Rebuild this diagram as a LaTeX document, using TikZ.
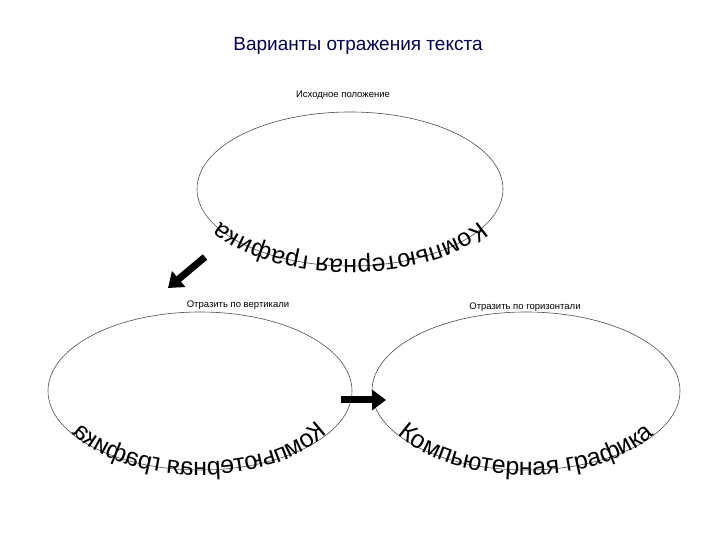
\documentclass[tikz,border=0pt]{standalone}
\usepackage{fontspec}
\setmainfont{Liberation Sans}
\usetikzlibrary{decorations.text,arrows.meta}
\begin{document}
\begin{tikzpicture}[x=1pt,y=1pt,
  oval/.style={draw=black!70,line width=0.6pt},
  lbl/.style={font=\fontsize{9.5}{11}\selectfont},
  blk/.style={line width=7pt,-{Triangle[length=14pt,width=20pt]}},
  curv/.style={decorate,decoration={text along path,text align=center,
     text={Компьютерная графика}}}]
\useasboundingbox (0,0) rectangle (720,540);
\node[font=\fontsize{19}{22}\selectfont,text=blue!35!black] (title) at (358,494) {Варианты отражения текста};
\node[lbl] (l0) at (343,445) {Исходное положение};
\node[lbl] (l1) at (238,235) {Отразить по вертикали};
\node[lbl] (l2) at (525,233) {Отразить по горизонтали};
\draw[oval] (350,351) ellipse[x radius=153,y radius=77];
\draw[oval] (200,149) ellipse[x radius=152,y radius=79];
\draw[oval] (526,149) ellipse[x radius=154,y radius=79];
\begin{scope}
\fontsize{25}{25}\selectfont
\path[curv] (526,149) ++(197:150 and 84) arc[start angle=197,end angle=343,x radius=150,y radius=84];
\end{scope}
\begin{scope}[transform canvas={xshift=400pt,xscale=-1}]
\fontsize{25}{25}\selectfont
\path[curv] (200,149) ++(197:148 and 84) arc[start angle=197,end angle=343,x radius=148,y radius=84];
\end{scope}
\begin{scope}[transform canvas={rotate around={180:(350,351)}}]
\fontsize{25}{25}\selectfont
\path[curv] (350,351) ++(163:146 and 70) arc[start angle=163,end angle=17,x radius=146,y radius=70];
\end{scope}
\coordinate (a1s) at (205,283);
\coordinate (a1e) at (168,252);
\coordinate (a2s) at (341,140);
\coordinate (a2e) at (386,140);
\draw[blk] (a1s) -- (a1e);
\draw[blk] (a2s) -- (a2e);
\end{tikzpicture}
\end{document}
